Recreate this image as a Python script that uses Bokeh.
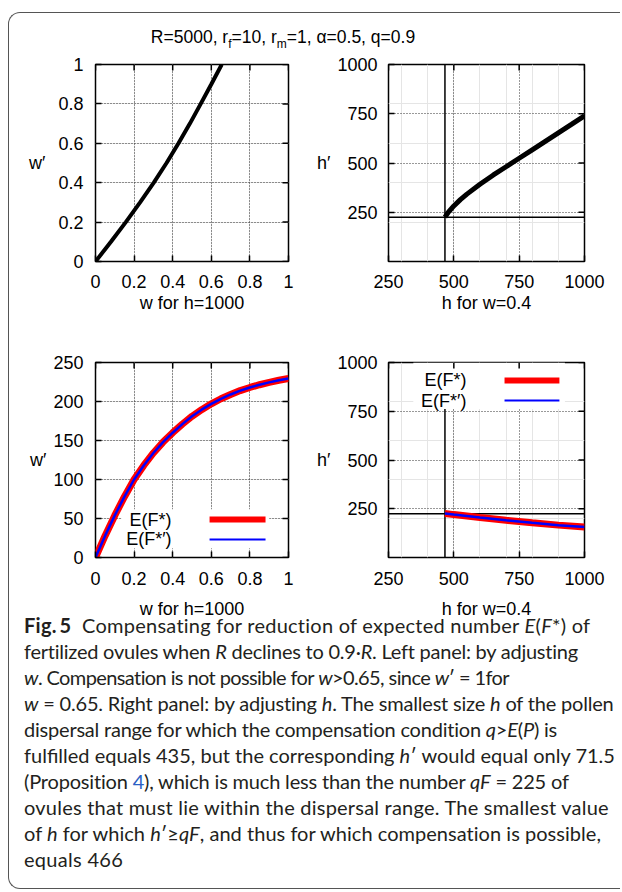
from bokeh.plotting import figure
from bokeh.models import (LinearAxis, FixedTicker, Grid, Span, BoxAnnotation,
                          Label, Div, Range1d)
from bokeh.layouts import column, row
from bokeh.embed import file_html
from bokeh.resources import INLINE

# ---------------- data ----------------
# top-left: w' needed for each w (h = 1000)
w_top = [0, 0.08, 0.157, 0.231, 0.302, 0.368, 0.430, 0.489, 0.545, 0.600, 0.654]
wprime_top = [0, 0.1, 0.2, 0.3, 0.4, 0.5, 0.6, 0.7, 0.8, 0.9, 1.0]

# top-right: h' needed for each h (w = 0.4)
h_top = [466, 480, 500, 525, 550, 600, 650, 700, 750, 800, 850, 900, 950, 1000]
hprime_top = [225, 252, 282, 314, 342, 392, 438, 481, 524, 567, 610, 653, 696, 740]

# bottom-left: E(F*) and E(F*') against w (h = 1000)
w_bot = [0, 0.05, 0.1, 0.15, 0.2, 0.25, 0.3, 0.35, 0.4, 0.45, 0.5,
         0.55, 0.6, 0.65, 0.7, 0.75, 0.8, 0.85, 0.9, 0.95, 1.0]
EF_w = [0, 28, 54, 78, 100, 118, 134, 148, 160, 171, 181,
        189.5, 197, 203.5, 209, 214, 218, 221.5, 224.5, 227.2, 229.5]
EFp_w = [0, 28, 54, 78, 100, 118, 134, 148, 160, 171, 181,
         189.5, 197, 203.5, 209, 214, 218, 221.5, 224.5, 227.2, 229.5]

# bottom-right: E(F*) and E(F*') against h (w = 0.4)
h_bot = [466, 500, 600, 700, 800, 900, 1000]
EF_h = [226, 220, 205, 191, 178, 166, 156]
EFp_h = [226, 220, 205, 191, 178, 166, 156]

h_min = 466      # smallest h for which h' >= qF
qF = 225         # ovules that must lie in the dispersal range

unit_ticks = [0, 0.2, 0.4, 0.6, 0.8, 1]
unit_labels = ["0", "0.2", "0.4", "0.6", "0.8", "1"]
h_ticks = [250, 500, 750, 1000]
h_labels = ["250", "500", "750", "1000"]
ef_ticks = [0, 50, 100, 150, 200, 250]
ef_labels = ["0", "50", "100", "150", "200", "250"]

legend_labels = ["E(F*)", "E(F*\u2032)"]
legend_colors = ["red", "blue"]

FONT = "Liberation Sans"
FS = "18px"


def build(width, height, borders, xr, yr, xt, xl, yt, yl, xtitle, ytitle,
          x_label_standoff, x_title_standoff, y_title_standoff, y_label_standoff):
    left, right, top, bottom = borders
    p = figure(width=width, height=height, x_range=Range1d(*xr), y_range=Range1d(*yr),
               output_backend="svg", toolbar_location=None,
               x_axis_location=None, y_axis_location=None,
               min_border_left=left, min_border_right=right,
               min_border_top=top, min_border_bottom=bottom,
               background_fill_color="white", border_fill_color="white")
    p.outline_line_color = "black"
    p.outline_line_width = 1.5
    p.outline_line_alpha = 1.0
    for dim, ticks in ((0, xt), (1, yt)):
        g = Grid(dimension=dim, ticker=FixedTicker(ticks=ticks),
                 grid_line_color="#333333", grid_line_dash="1 2", grid_line_width=1)
        p.add_layout(g)
    for place, ticks, labels, title in (("below", xt, xl, xtitle), ("left", yt, yl, ytitle)):
        ax = LinearAxis(ticker=FixedTicker(ticks=ticks))
        ax.axis_line_color = None
        ax.major_tick_in = 6
        ax.major_tick_out = 0
        ax.major_tick_line_color = "black"
        ax.major_tick_line_width = 1.5
        ax.minor_tick_line_color = None
        ax.major_label_overrides = dict(zip(ticks, labels))
        ax.major_label_text_font = FONT
        ax.major_label_text_font_size = FS
        ax.major_label_text_color = "black"
        ax.axis_label = title
        ax.axis_label_text_font = FONT
        ax.axis_label_text_font_size = FS
        ax.axis_label_text_font_style = "normal"
        ax.axis_label_text_color = "black"
        if place == "left":
            ax.axis_label_orientation = "horizontal"
            ax.axis_label_standoff = y_title_standoff
            ax.major_label_standoff = y_label_standoff
        else:
            ax.axis_label_standoff = x_title_standoff
            ax.major_label_standoff = x_label_standoff
        p.add_layout(ax, place)
    # mirrored tick marks on the top and right edges of the frame
    p.ray(x=xt, y=[yr[1]] * len(xt), length=6, length_units="screen", angle=-90,
          angle_units="deg", line_color="black", line_width=1.5)
    p.ray(x=[xr[1]] * len(yt), y=yt, length=6, length_units="screen", angle=180,
          angle_units="deg", line_color="black", line_width=1.5)
    return p


def key(p, text_x, text_y, sample_x0, sample_x1, half_heights):
    """gnuplot-style key: text on the left, line sample on the right."""
    for txt, ty, col, hh in zip(legend_labels, text_y, legend_colors, half_heights):
        p.add_layout(Label(x=text_x, y=ty, text=txt, text_align="right", text_baseline="middle",
                           text_font=FONT, text_font_size=FS, text_color="black"))
        p.add_layout(BoxAnnotation(left=sample_x0, right=sample_x1, bottom=ty - hh, top=ty + hh,
                                   fill_color=col, fill_alpha=1, line_color=None))


# ---------------- top-left ----------------
p1 = build(300, 290, (86, 21, 14, 79), (0, 1), (0, 1), unit_ticks, unit_labels,
           unit_ticks, unit_labels, "w for h=1000", "w\u2032", 13, 2, 10, 12)
p1.line(w_top, wprime_top, line_color="black", line_width=4)

# ---------------- top-right ----------------
p2 = build(311, 290, (79, 36, 14, 79), (250, 1000), (0, 1000), h_ticks, h_labels,
           h_ticks, h_labels, "h for w=0.4", "h\u2032", 13, 2, 4, 11)
p2.add_layout(Span(location=h_min, dimension="height", line_color="black", line_width=1.5, level="underlay"))
p2.add_layout(Span(location=qF, dimension="width", line_color="black", line_width=1.5, level="underlay"))
p2.line(h_top, hprime_top, line_color="black", line_width=5)

# ---------------- bottom-left ----------------
p3 = build(300, 282, (86, 21, 22, 65), (0, 1), (0, 250), unit_ticks, unit_labels,
           ef_ticks, ef_labels, "w for h=1000", "w\u2032", 14, 11, 4, 12)
p3.add_layout(BoxAnnotation(left=0.135, right=0.9, bottom=12, top=62, fill_color="white",
                            fill_alpha=1, line_color=None, level="underlay"))
p3.line(w_bot, EF_w, line_color="red", line_width=7)
p3.line(w_bot, EFp_w, line_color="blue", line_width=2.5)
key(p3, 0.394, (48.7, 23.1), 0.591, 0.881, (3.9, 1.3))

# ---------------- bottom-right ----------------
p4 = build(311, 282, (79, 36, 22, 65), (250, 1000), (0, 1000), h_ticks, h_labels,
           h_ticks, h_labels, "h for w=0.4", "h\u2032", 14, 11, 4, 11)
p4.add_layout(Span(location=h_min, dimension="height", line_color="black", line_width=1.5, level="underlay"))
p4.add_layout(Span(location=qF, dimension="width", line_color="black", line_width=1.5, level="underlay"))
p4.add_layout(BoxAnnotation(left=345, right=925, bottom=762, top=1000, fill_color="white",
                            fill_alpha=1, line_color=None, level="underlay"))
p4.line(h_bot, EF_h, line_color="red", line_width=7)
p4.line(h_bot, EFp_h, line_color="blue", line_width=2.5)
key(p4, 548, (908, 805), 694, 904, (15.4, 5.1))

# ---------------- title and caption ----------------
title = Div(width=611, height=37, margin=(0, 0, 0, 0), text=(
    "<div style=\"width:548px;text-align:center;font-family:'Liberation Sans';"
    "font-size:17.5px;padding-top:14px;line-height:20px;color:black;white-space:nowrap\">"
    "R=5000, r<sub style='font-size:12px'>f</sub>=10, r<sub style='font-size:12px'>m</sub>=1, "
    "\u03b1=0.5, q=0.9</div>"))

cap_lines = [
    "<b>Fig.&#8201;5</b>&nbsp; Compensating for reduction of expected number <i>E</i>(<i>F</i>*) of",
    "fertilized ovules when <i>R</i> declines to 0.9\u00b7<i>R</i>. Left panel: by adjusting",
    "<i>w</i>. Compensation is not possible for <i>w</i>&gt;0.65, since <i>w</i>\u2032 = 1for",
    "<i>w</i> = 0.65. Right panel: by adjusting <i>h</i>. The smallest size <i>h</i> of the pollen",
    "dispersal range for which the compensation condition <i>q</i>&gt;<i>E</i>(<i>P</i>) is",
    "fulfilled equals 435, but the corresponding <i>h</i>\u2032 would equal only 71.5",
    "(Proposition <span style='color:#2b5fc4'>4</span>), which is much less than the number <i>qF</i> = 225 of",
    "ovules that must lie within the dispersal range. The smallest value",
    "of <i>h</i> for which <i>h</i>\u2032\u2265<i>qF</i>, and thus for which compensation is possible,",
    "equals 466",
]
cap_spacing = [0.25, -0.24, -0.6, -0.19, -0.21, 0.0, -0.18, 0.22, 0.03, 0.3]
cap_html = "".join("<div style='letter-spacing:%.2fpx'>%s</div>" % (ls, ln)
                   for ls, ln in zip(cap_spacing, cap_lines))
caption = Div(width=611, height=266, margin=(0, 0, 0, 0), text=(
    "<div style=\"font-family:Lato;font-size:20px;line-height:26px;white-space:nowrap;"
    "margin-top:-10px;padding-left:15px;color:#231f20\">" + cap_html + "</div>"))

layout = column(title, row(p1, p2), row(p3, p4), caption, margin=(12, 0, 0, 8),
                styles={"border-left": "1.5px solid #555", "border-top": "1.5px solid #555",
                        "border-bottom": "1.5px solid #555",
                        "border-top-left-radius": "12px", "border-bottom-left-radius": "12px"})

open("out.html", "w").write(file_html(layout, INLINE))
